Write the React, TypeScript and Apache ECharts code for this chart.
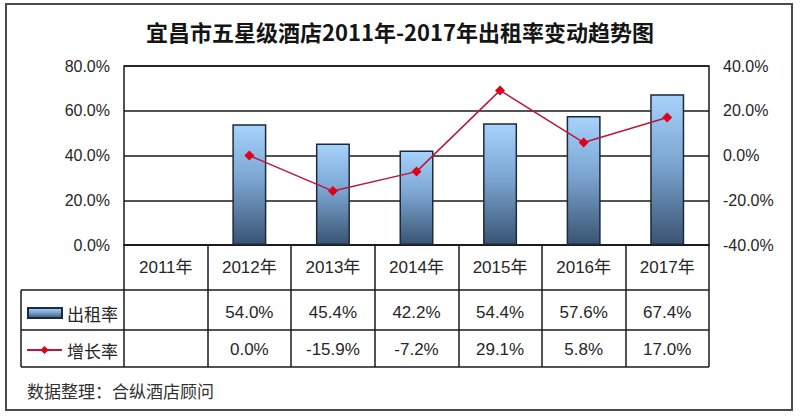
import React, { useEffect, useRef } from "react";
import * as echarts from "echarts";

const years = ["2011年", "2012年", "2013年", "2014年", "2015年", "2016年", "2017年"];
const occupancy: (number | null)[] = [null, 54.0, 45.4, 42.2, 54.4, 57.6, 67.4];
const growth: (number | null)[] = [null, 0.0, -15.9, -7.2, 29.1, 5.8, 17.0];
const leftTicks = { min: 0, max: 80, interval: 20 };
const rightTicks = { min: -40, max: 40, interval: 20 };
const titleText = "宜昌市五星级酒店2011年-2017年出租率变动趋势图";
const sourceText = "数据整理：合纵酒店顾问";
const seriesNames = ["出租率", "增长率"];

const FONT = "'Liberation Sans', 'Noto Sans CJK SC', sans-serif";
const fmt = (v: number | null) => (v === null ? "" : v.toFixed(1) + "%");

export default function App() {
  const ref = useRef<HTMLDivElement>(null);
  useEffect(() => {
    if (!ref.current) return;
    const chart = echarts.init(ref.current, undefined, { renderer: "svg" });
    const barGrad = new echarts.graphic.LinearGradient(0, 0, 0, 1, [
      { offset: 0, color: "#a6d2fb" },
      { offset: 0.45, color: "#7ca6d2" },
      { offset: 1, color: "#3a5473" },
    ]);
    const labelStyle = { fontFamily: FONT, fontSize: 17, color: "#262626", lineHeight: 20 };
    const line = (x1: number, y1: number, x2: number, y2: number) => ({
      type: "line",
      shape: { x1, y1, x2, y2 },
      style: { stroke: "#1a1a1a", lineWidth: 1.5 },
      silent: true,
    });
    chart.setOption({
      animation: false,
      backgroundColor: "#ffffff",
      title: [
        {
          text: titleText,
          left: "center",
          top: 15,
          textStyle: { fontFamily: "'Noto Sans CJK SC', sans-serif", fontSize: 22, fontWeight: "bold", color: "#151515" },
        },
        {
          text: sourceText,
          left: 22,
          top: 377,
          textStyle: { fontFamily: "'Noto Sans CJK SC', sans-serif", fontSize: 17, fontWeight: "normal", color: "#303030" },
        },
      ],
      legend: [
        {
          data: [seriesNames[0]],
          left: 27,
          top: 303,
          padding: 0,
          itemWidth: 34,
          itemHeight: 10,
          itemGap: 0,
          icon: "rect",
          selectedMode: false,
          textStyle: { fontFamily: "'Noto Sans CJK SC', sans-serif", fontSize: 17, color: "#262626", lineHeight: 20 },
        },
        {
          data: [seriesNames[1]],
          left: 26,
          top: 340,
          padding: 0,
          itemWidth: 35,
          itemHeight: 10,
          itemGap: 0,
          selectedMode: false,
          textStyle: { fontFamily: "'Noto Sans CJK SC', sans-serif", fontSize: 17, color: "#262626", lineHeight: 20 },
        },
      ],
      grid: {
        left: 124,
        right: 91,
        top: 66,
        bottom: 171,
        show: true,
        borderColor: "#1a1a1a",
        borderWidth: 1.5,
        backgroundColor: "#ffffff",
      },
      xAxis: [
        {
          type: "category",
          data: years,
          position: "bottom",
          axisLine: { show: true, lineStyle: { color: "#1a1a1a", width: 1.5 } },
          axisTick: { show: true, length: 122, lineStyle: { color: "#1a1a1a", width: 1.5 } },
          axisLabel: { ...labelStyle, margin: 12 },
        },
        {
          type: "category",
          data: occupancy.map(fmt),
          position: "bottom",
          offset: 45,
          axisLine: { show: false },
          axisTick: { show: false },
          axisLabel: { ...labelStyle, margin: 12, interval: 0 },
        },
        {
          type: "category",
          data: growth.map(fmt),
          position: "bottom",
          offset: 82,
          axisLine: { show: false },
          axisTick: { show: false },
          axisLabel: { ...labelStyle, margin: 12, interval: 0 },
        },
      ],
      yAxis: [
        {
          type: "value",
          ...leftTicks,
          position: "left",
          axisLine: { show: false },
          axisTick: { show: false },
          axisLabel: { fontFamily: FONT, fontSize: 16, color: "#262626", margin: 14, formatter: (v: number) => v.toFixed(1) + "%" },
          splitLine: { show: true, lineStyle: { color: "#1a1a1a", width: 1.5 } },
        },
        {
          type: "value",
          ...rightTicks,
          position: "right",
          axisLine: { show: false },
          axisTick: { show: false },
          axisLabel: { fontFamily: FONT, fontSize: 16, color: "#262626", margin: 14, formatter: (v: number) => v.toFixed(1) + "%" },
          splitLine: { show: false },
        },
      ],
      series: [
        {
          name: seriesNames[0],
          type: "bar",
          xAxisIndex: 0,
          yAxisIndex: 0,
          barWidth: 34,
          data: occupancy.map((v) => (v === null ? "-" : v)),
          itemStyle: { color: barGrad, borderColor: "#1c2a3a", borderWidth: 1.5 },
        },
        {
          name: seriesNames[1],
          type: "line",
          xAxisIndex: 0,
          yAxisIndex: 1,
          data: growth.map((v) => (v === null ? "-" : v)),
          symbol: "diamond",
          symbolSize: 10,
          lineStyle: { color: "#b8183a", width: 1.5 },
          itemStyle: { color: "#e0001a" },
        },
      ],
      graphic: [
        {
          type: "rect",
          shape: { x: 6, y: 4, width: 786, height: 406 },
          style: { fill: "none", stroke: "#4a4a4a", lineWidth: 2 },
          silent: true,
          z: 100,
        },
        line(21, 290, 709, 290),
        line(21, 330, 709, 330),
        line(21, 367, 709, 367),
        line(21, 290, 21, 367),
      ],
    });
    return () => chart.dispose();
  }, []);
  return (
    <div
      ref={ref}
      style={{ position: "fixed", left: 0, top: 0, width: 800, height: 416, background: "#fff" }}
    />
  );
}
